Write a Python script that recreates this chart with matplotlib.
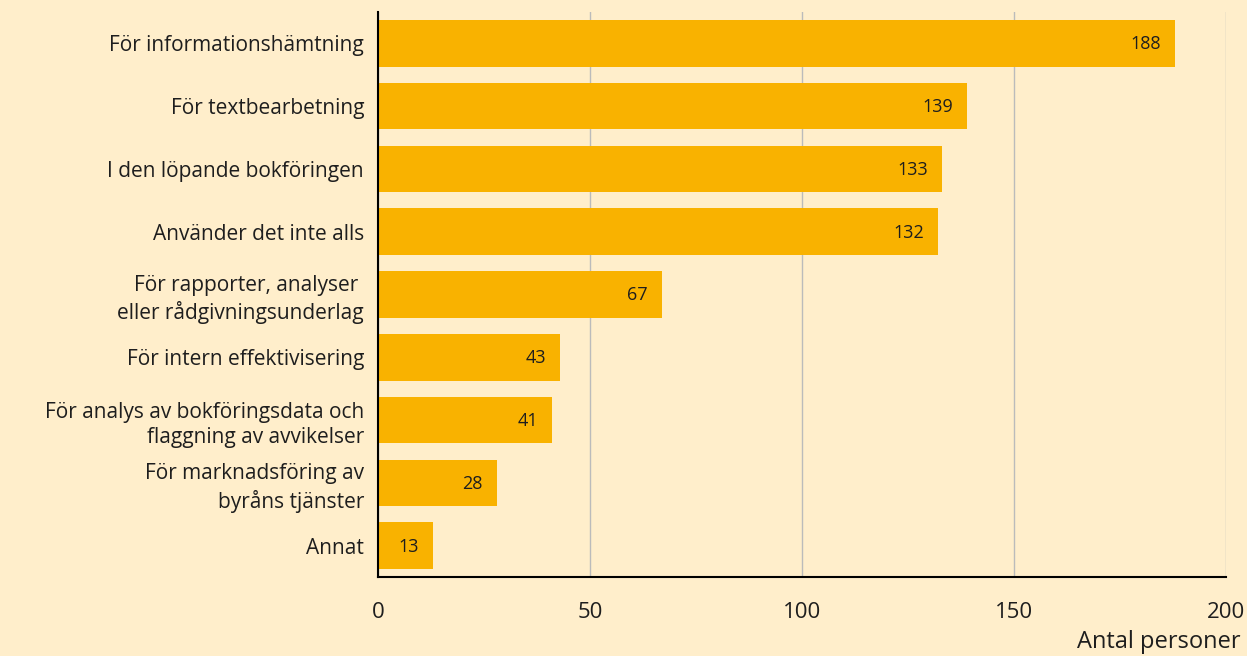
import matplotlib
matplotlib.use("Agg")
import matplotlib.pyplot as plt

categories = [
    "För informationshämtning",
    "För textbearbetning",
    "I den löpande bokföringen",
    "Använder det inte alls",
    "För rapporter, analyser \neller rådgivningsunderlag",
    "För intern effektivisering",
    "För analys av bokföringsdata och\nflaggning av avvikelser",
    "För marknadsföring av\nbyråns tjänster",
    "Annat",
]
values = [188, 139, 133, 132, 67, 43, 41, 28, 13]
xticks = [0, 50, 100, 150, 200]

BG = "#FFEECB"
BAR = "#F9B200"
TEXT = "#1E1E1E"

plt.rcParams["font.family"] = ["Open Sans", "DejaVu Sans"]

fig = plt.figure(figsize=(12.47, 6.56), dpi=100, facecolor=BG)
ax = fig.add_axes([378 / 1247, 1 - 577 / 656, (1226 - 378) / 1247, (577 - 12) / 656])
ax.set_facecolor(BG)

ypos = range(len(categories))
bars = ax.barh(ypos, values, height=0.74, color=BAR, zorder=2)

for bar, v in zip(bars, values):
    ax.annotate(str(v), (bar.get_width(), bar.get_y() + bar.get_height() / 2),
                xytext=(-14, -1), textcoords="offset pixels",
                ha="right", va="center", fontsize=13, color=TEXT, zorder=3)

ax.set_xlim(0, 200)
ax.set_ylim(len(categories) - 0.5, -0.5)
ax.set_yticks(list(ypos))
ax.set_yticklabels(categories, fontsize=15, color=TEXT, linespacing=1.3)
ax.set_xticks(xticks)
ax.set_xticklabels([str(t) for t in xticks], fontsize=16, color=TEXT)
ax.tick_params(axis="both", length=0)
ax.tick_params(axis="y", pad=10)
ax.tick_params(axis="x", pad=18)

ax.grid(axis="x", color="#BBBBBB", linewidth=1, zorder=0)
for s in ["top", "right"]:
    ax.spines[s].set_visible(False)
ax.spines["left"].set_color("black")
ax.spines["left"].set_linewidth(1.5)
ax.spines["bottom"].set_color("black")
ax.spines["bottom"].set_linewidth(1.5)
ax.spines["left"].set_zorder(4)

fig.text(1241 / 1247, 1 - 642 / 656, "Antal personer", ha="right", va="center",
         fontsize=17, color=TEXT)

fig.savefig("out.png", dpi=100, facecolor=BG)
